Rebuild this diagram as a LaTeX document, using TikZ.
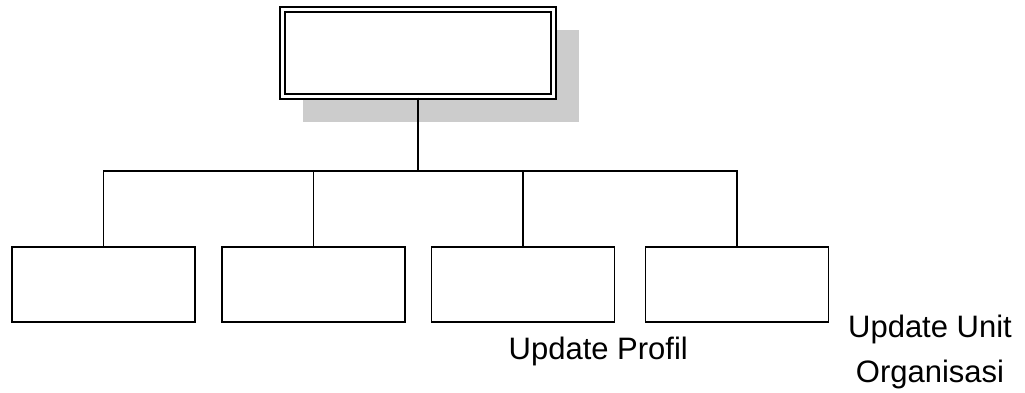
\documentclass[tikz,border=0pt]{standalone}
\usepackage{fontspec}
\setmainfont{Liberation Sans}
\begin{document}
\begin{tikzpicture}[x=1pt,y=-1pt,
  topbox/.style={draw=black,fill=white,double,line width=2pt,double distance=2.7pt,minimum width=271pt,minimum height=87pt,inner sep=0pt},
  childbox/.style={draw=black,line width=1.6pt,minimum width=183pt,minimum height=75pt,inner sep=0pt},
  conn/.style={draw=black,line width=1.6pt},
  lbl/.style={font=\fontsize{31}{45}\selectfont,inner sep=0pt,align=center}]
\useasboundingbox (0,0) rectangle (1025,392);
\fill[black!20] (303,30) rectangle (579,122);
\node[topbox] (top) at (418.2,53.1) {};
\node[childbox] (c1) at (103.5,284.5) {};
\node[childbox] (c2) at (313.5,284.5) {};
\node[childbox] (c3) at (523,284.5) {};
\node[childbox] (c4) at (737,284.5) {};
\coordinate (bus) at (418.2,171);
\draw[conn] (top.south) -- (bus);
\draw[conn] (c1.north) |- (bus) -| (c4.north);
\draw[conn] (c2.north) -- (c2.north |- bus);
\draw[conn] (c3.north) -- (c3.north |- bus);
\node[lbl,anchor=base west] (l1) at (508.5,359) {Update Profil};
\node[lbl,anchor=base] (l2) at (930,382) {Update Unit\\Organisasi};
\end{tikzpicture}
\end{document}
